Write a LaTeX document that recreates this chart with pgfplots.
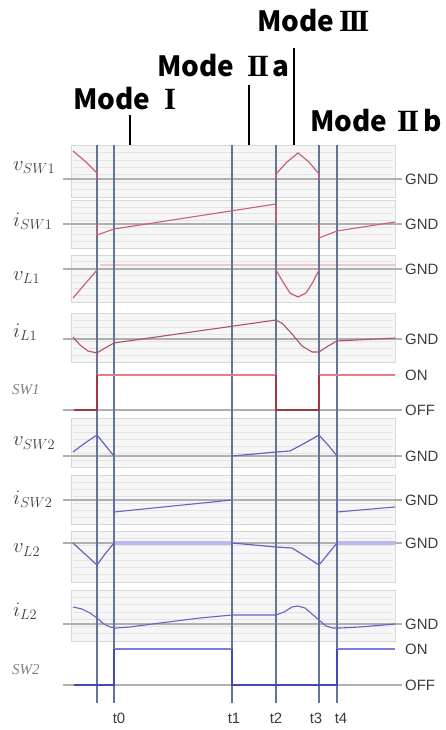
\documentclass[border=0pt]{standalone}
\usepackage{pgfplots}
\pgfplotsset{compat=1.18}
\usepackage{fontspec}
\setmainfont{Liberation Sans}
\newfontfamily\jpfont{Noto Sans CJK JP}
\newfontfamily\romfont{Liberation Serif}
\definecolor{wred}{RGB}{205,95,115}
\definecolor{swon1}{RGB}{232,125,125}
\definecolor{swoff1}{RGB}{165,55,60}
\definecolor{wblue}{RGB}{100,100,195}
\definecolor{swon2}{RGB}{125,125,225}
\definecolor{swoff2}{RGB}{70,70,185}
\definecolor{vband}{RGB}{185,185,235}
\definecolor{vline}{RGB}{100,115,152}
\definecolor{gndc}{RGB}{175,175,175}
\definecolor{panelbg}{RGB}{246,246,246}
\definecolor{panelbd}{RGB}{215,215,215}
\definecolor{gridc}{RGB}{228,228,228}
\definecolor{txt}{RGB}{60,60,60}
\newcommand\panel[2]{%
  \addplot[fill=panelbg, draw=panelbd, line width=0.8pt, forget plot] coordinates {(71,#1) (395,#1) (395,#2) (71,#2) (71,#1)};
  \foreach \k in {1,...,6}{%
    \pgfmathsetmacro\yy{#1+\k*(#2-#1)/7}%
    \edef\tmp{\noexpand\addplot[gridc, line width=0.7pt, forget plot] coordinates {(73,\yy) (393,\yy)};}\tmp
  }%
}
\newcommand\RI{{\romfont\bfseries I}}
\newcommand\RII{{\romfont\bfseries I\kern-2.2pt I}}
\newcommand\RIII{{\romfont\bfseries I\kern-3pt I\kern-3pt I}}
\tikzset{modef/.style={anchor=base west, inner sep=0pt, font=\jpfont\bfseries\fontsize{28}{28}\selectfont},
  romf/.style={anchor=base west, inner sep=0pt, font=\fontsize{31}{31}\selectfont},
  rlab/.style={anchor=west, text=txt, font=\fontsize{15}{15}\selectfont, inner sep=0pt},
  llab/.style={anchor=west, text=txt, font=\fontsize{20}{20}\selectfont, inner sep=0pt},
  swlab/.style={anchor=west, text=gray, font=\romfont\itshape\fontsize{15}{15}\selectfont, inner sep=0pt},
  tlab/.style={text=txt, font=\fontsize{15}{15}\selectfont}}
\begin{document}
\begin{tikzpicture}
\begin{axis}[
  width=445bp, height=730bp, scale only axis,
  xmin=0, xmax=445, ymin=0, ymax=730, y dir=reverse,
  hide axis, clip=false,
]
\addplot[draw=none, forget plot] coordinates {(0,0) (445,730)};
% panels
\panel{145}{197}
\panel{200}{248}
\panel{255}{302}
\panel{313}{362}
\panel{418}{467}
\panel{475}{524}
\panel{531}{582}
\panel{590}{641}
% GND / OFF baselines
\pgfplotsinvokeforeach{179,224,269,339,456,500,543,624,410,685}{
  \addplot[gndc, line width=2pt, forget plot] coordinates {(63,#1) (402,#1)};
}
% faint lines
\addplot[wred!35, line width=1.5pt] coordinates {(100,265) (395,265)};
\addplot[vband, line width=4pt] coordinates {(114,543) (232,543)};
\addplot[vband, line width=4pt] coordinates {(337,543) (395,543)};
% vertical time lines
\pgfplotsinvokeforeach{97,114,232,276,319,337}{
  \addplot[vline, line width=2.2pt, forget plot] coordinates {(#1,145) (#1,703)};
}
% mode markers
\addplot[black, line width=2pt] coordinates {(130,115) (130,145)};
\addplot[black, line width=2pt] coordinates {(249,85) (249,145)};
\addplot[black, line width=2pt] coordinates {(294,48) (294,145)};
% v_SW1
\addplot[wred, line width=1.2pt] coordinates {(73,151) (86,162) (97,173) (97,179)};
\addplot[wred, line width=1.2pt] coordinates {(276,179) (276,174) (287,162) (298,153) (309,162) (319,174) (319,179)};
% i_SW1
\addplot[wred, line width=1.1pt] coordinates {(97,224) (97,235) (114,229) (276,204) (276,224)};
\addplot[wred, line width=1.1pt] coordinates {(319,224) (319,238) (337,231) (395,222)};
% v_L1
\addplot[wred, line width=1.2pt] coordinates {(73,298) (85,284) (97,270)};
\addplot[wred, line width=1.2pt] coordinates {(276,270) (283,282) (290,293) (298,297) (306,293) (313,282) (319,270)};
% i_L1
\addplot[wred!85!black, line width=1.1pt] coordinates {(73,337) (80,345) (88,351) (97,353) (105,348) (114,343) (276,320) (283,324) (292,334) (302,346) (312,352) (319,352) (328,346) (337,341) (395,338)};
% SW1
\addplot[swon1, line width=2.4pt] coordinates {(97,375) (276,375)};
\addplot[swon1, line width=2.4pt] coordinates {(319,375) (395,375)};
\addplot[swoff1, line width=1.6pt] coordinates {(74,410) (97,410) (97,375)};
\addplot[swoff1, line width=1.6pt] coordinates {(276,375) (276,410) (319,410) (319,375)};
% v_SW2
\addplot[wblue, line width=1.2pt] coordinates {(73,452) (85,443) (97,435) (105,445) (114,456)};
\addplot[wblue, line width=1.2pt] coordinates {(232,456) (276,452) (290,451) (305,443) (319,435) (328,445) (337,456)};
% i_SW2
\addplot[wblue, line width=1.1pt] coordinates {(114,500) (114,512) (232,500)};
\addplot[wblue, line width=1.1pt] coordinates {(337,500) (337,512) (395,507)};
% v_L2
\addplot[wblue, line width=1.2pt] coordinates {(73,543) (85,554) (97,565) (105,554) (114,543)};
\addplot[wblue, line width=1.2pt] coordinates {(232,543) (276,547) (292,548) (305,556) (319,565) (328,554) (337,543)};
% i_L2
\addplot[wblue, line width=1.1pt] coordinates {(73,607) (82,609) (90,613) (97,618) (104,624) (110,627) (116,628) (130,627) (160,623) (200,618) (232,615) (276,615) (284,612) (292,607) (298,606) (305,608) (312,614) (319,620) (326,626) (333,628) (340,628) (360,627) (395,624)};
% SW2
\addplot[swon2, line width=2.4pt] coordinates {(114,649) (232,649)};
\addplot[swon2, line width=2.4pt] coordinates {(337,649) (395,649)};
\addplot[swoff2, line width=1.6pt] coordinates {(74,685) (114,685) (114,649)};
\addplot[swoff2, line width=1.6pt] coordinates {(232,649) (232,685) (337,685) (337,649)};
% right labels
\pgfplotsinvokeforeach{179,224,269,339,456,500,543,624}{
  \node[rlab] at (axis cs:405,#1) {GND};
}
\node[rlab] at (axis cs:405,375) {ON};
\node[rlab] at (axis cs:405,410) {OFF};
\node[rlab] at (axis cs:405,649) {ON};
\node[rlab] at (axis cs:405,685) {OFF};
% time labels
\node[tlab] at (axis cs:119,718) {t0};
\node[tlab] at (axis cs:234,718) {t1};
\node[tlab] at (axis cs:276,718) {t2};
\node[tlab] at (axis cs:316,718) {t3};
\node[tlab] at (axis cs:341,718) {t4};
% left labels
\node[llab] at (axis cs:13,168) {$v_{SW1}$};
\node[llab] at (axis cs:13,221) {$i_{SW1}$};
\node[llab] at (axis cs:13,278) {$v_{L1}$};
\node[llab] at (axis cs:13,332) {$i_{L1}$};
\node[swlab] at (axis cs:12,390) {SW1};
\node[llab] at (axis cs:13,443) {$v_{SW2}$};
\node[llab] at (axis cs:13,499) {$i_{SW2}$};
\node[llab] at (axis cs:13,550) {$v_{L2}$};
\node[llab] at (axis cs:13,611) {$i_{L2}$};
\node[swlab] at (axis cs:12,670) {SW2};
% mode labels
\node[modef] at (axis cs:73,110) {Mode};
\node[romf] at (axis cs:164,110) {\RI};
\node[modef] at (axis cs:157,77) {Mode};
\node[romf] at (axis cs:247,77) {\RII};
\node[modef] at (axis cs:272,77) {a};
\node[modef] at (axis cs:257,32) {Mode};
\node[romf] at (axis cs:339,32) {\RIII};
\node[modef] at (axis cs:310,132) {Mode};
\node[romf] at (axis cs:397,132) {\RII};
\node[modef] at (axis cs:423,132) {b};
\end{axis}
\end{tikzpicture}
\end{document}
